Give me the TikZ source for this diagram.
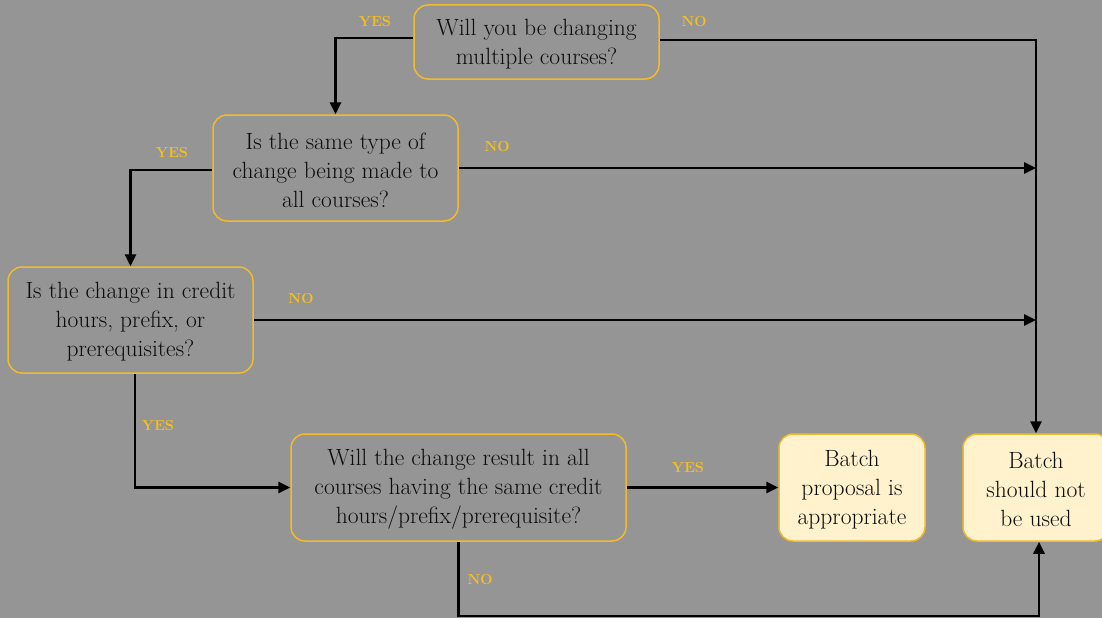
\documentclass[tikz,border=0pt]{standalone}
\usepackage{fontspec}
\usetikzlibrary{arrows.meta,calc}
\definecolor{bg}{RGB}{149,149,150}
\definecolor{gold}{RGB}{242,186,45}
\definecolor{tagcol}{RGB}{246,192,30}
\definecolor{cream}{RGB}{255,242,204}
\definecolor{ink}{RGB}{12,12,12}
\tikzset{
  question/.style={draw=gold, line width=1.5pt, rounded corners=14pt, align=center,
    text=ink, font=\rmfamily\fontsize{23.5}{29}\selectfont\addfontfeature{FakeBold=0.5}, inner sep=0pt},
  outcome/.style={question, fill=cream, minimum width=146pt, minimum height=107pt},
  flow/.style={line width=2.6pt, draw=black},
  arrowed/.style={flow, -{Triangle[length=12pt,width=11pt]}},
  tag/.style={text=tagcol, font=\rmfamily\fontsize{14.5}{14.5}\selectfont\bfseries}
}
\begin{document}
\begin{tikzpicture}[x=1pt,y=-1pt]
  \fill[bg] (0,0) rectangle (1102,618);
  \useasboundingbox (0,0) rectangle (1102,618);

  % decision boxes
  \node[question, minimum width=245pt, minimum height=74pt] (q1) at (536.5,42)
    {\strut Will you be changing\\multiple courses?};
  \node[question, minimum width=245pt, minimum height=106pt] (q2) at (335.5,168)
    {\strut Is the same type of\\change being made to\\all courses?};
  \node[question, minimum width=245pt, minimum height=106pt] (q3) at (130.5,320)
    {\strut Is the change in credit\\hours, prefix, or\\prerequisites?};
  \node[question, minimum width=335pt, minimum height=107pt] (q4) at (458.5,487.5)
    {\strut Will the change result in all\\courses having the same credit\\hours/prefix/prerequisite?};

  % outcomes
  \node[outcome] (ok) at (852,487.5) {\strut Batch\\proposal is\\appropriate};
  \node[outcome] (no) at (1036,487.5) {\strut Batch\\should not\\be used};

  % helper points
  \coordinate (j2) at (no.north |- q2.east);
  \coordinate (j3) at (no.north |- q3.east);
  \coordinate (low) at (458.5,616);

  % connectors
  \draw[arrowed] ([yshift=4pt]q1.west) -| (q2.north);
  \draw[arrowed] ([yshift=2pt]q1.east) -| (no.north);
  \draw[arrowed] ([yshift=-2pt]q2.west) -| (q3.north);
  \draw[arrowed] (q2.east) -- (j2);
  \draw[arrowed] (q3.east) -- (j3);
  \draw[arrowed] ([xshift=4.5pt]q3.south) |- (q4.west);
  \draw[arrowed] (q4.east) -- (ok.west);
  \draw[arrowed] (q4.south) -- (low) -| ([xshift=3pt]no.south);

  % branch labels
  \node[tag] (y1) at (375,22) {YES};
  \node[tag] (n1) at (694,22) {NO};
  \node[tag] (y2) at (172,153) {YES};
  \node[tag] (n2) at (497,147) {NO};
  \node[tag] (n3) at (301,299) {NO};
  \node[tag] (y3) at (158,426) {YES};
  \node[tag] (y4) at (688,468) {YES};
  \node[tag] (n4) at (480,580) {NO};
\end{tikzpicture}
\end{document}
